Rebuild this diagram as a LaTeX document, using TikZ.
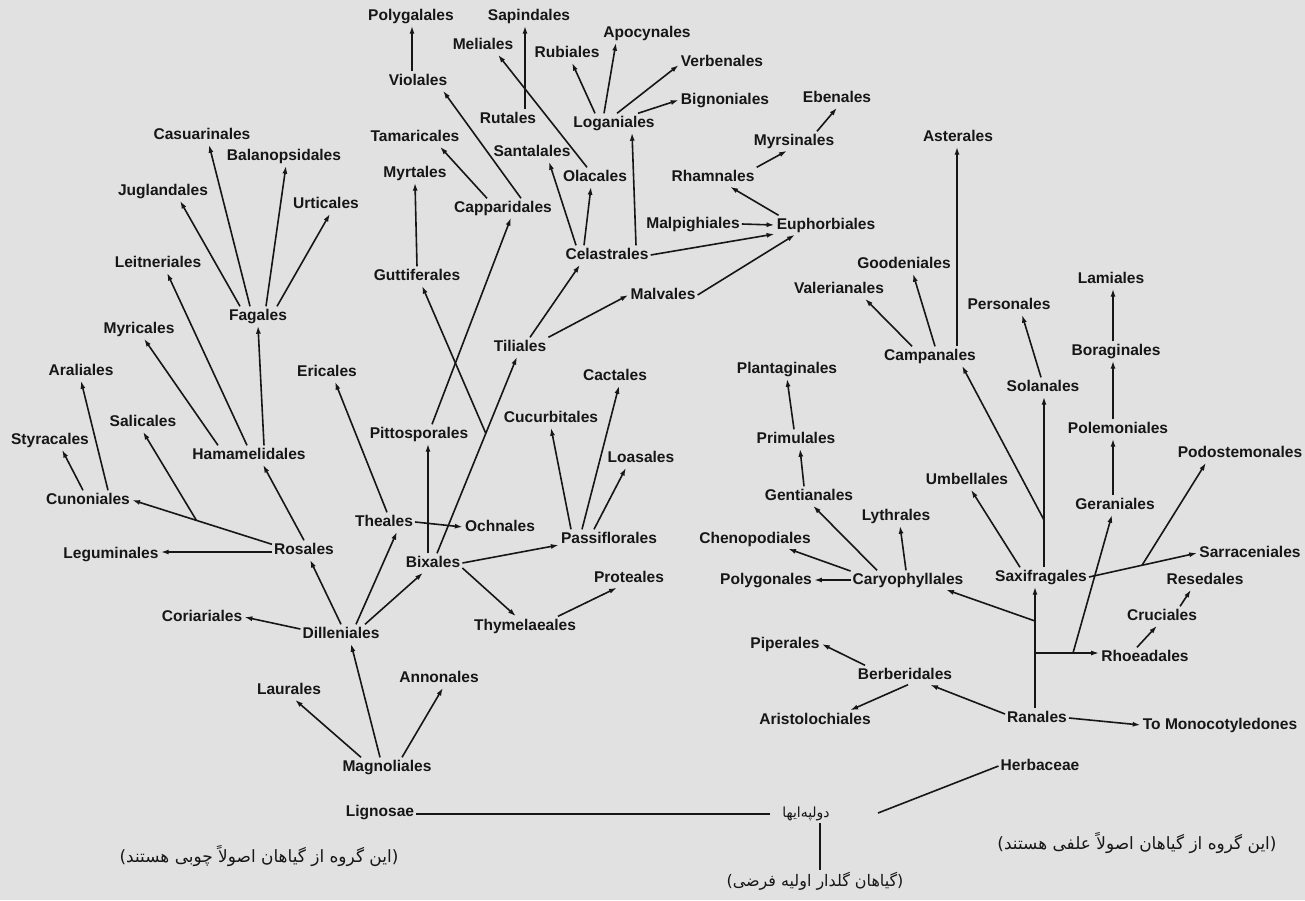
\documentclass[tikz,border=0pt]{standalone}
\usepackage{fontspec}
\setmainfont{Liberation Sans}
\newfontfamily\fa[Script=Arabic]{DejaVu Sans}
\newfontfamily\faL{DejaVu Sans}
\TeXXeTstate=1
\usetikzlibrary{arrows.meta,calc}
\definecolor{bgc}{RGB}{225,225,225}
\definecolor{ink}{RGB}{22,22,22}
\newcommand{\lp}{{\faL(}}
\newcommand{\rp}{{\faL)}}
\begin{document}
\begin{tikzpicture}[x=1bp,y=-1bp,
  lab/.style={font=\bfseries\fontsize{15.6}{18}\selectfont, text=ink, inner sep=2bp, text height=11.5bp, text depth=3.5bp},
  fat/.style={font=\fa\fontsize{#1}{20}\selectfont, text=ink, inner sep=2bp},
  ar/.style={draw=ink, line width=1.6bp, -{Latex[length=8bp,width=5bp]}},
  ln/.style={draw=ink, line width=1.6bp}]
\fill[bgc] (0,0) rectangle (1305,900);
% ---------- nodes (woody group) ----------
\node[lab] (pgl) at (411,16) {Polygalales};
\node[lab] (sap) at (529,16) {Sapindales};
\node[lab] (mel) at (483,45) {Meliales};
\node[lab] (rub) at (567,53) {Rubiales};
\node[lab] (apo) at (647,33) {Apocynales};
\node[lab] (ver) at (722,62) {Verbenales};
\node[lab] (vio) at (418,81) {Violales};
\node[lab] (big) at (725,100) {Bignoniales};
\node[lab] (rut) at (508,119) {Rutales};
\node[lab] (log) at (614,123) {Loganiales};
\node[lab] (ebe) at (837,98) {Ebenales};
\node[lab] (myrs) at (794,141) {Myrsinales};
\node[lab] (cas) at (202,135) {Casuarinales};
\node[lab] (bal) at (284,156) {Balanopsidales};
\node[lab] (tam) at (415,137) {Tamaricales};
\node[lab] (san) at (532,152) {Santalales};
\node[lab] (ola) at (595,177) {Olacales};
\node[lab] (rha) at (713,177) {Rhamnales};
\node[lab] (jug) at (163,191) {Juglandales};
\node[lab] (myrt) at (415,173) {Myrtales};
\node[lab] (cap) at (503,208) {Capparidales};
\node[lab] (urt) at (326,204) {Urticales};
\node[lab] (mal) at (693,224) {Malpighiales};
\node[lab] (eup) at (826,225) {Euphorbiales};
\node[lab] (cel) at (607,255) {Celastrales};
\node[lab] (lei) at (158,263) {Leitneriales};
\node[lab] (gut) at (417,276) {Guttiferales};
\node[lab] (mlv) at (663,295) {Malvales};
\node[lab] (fag) at (258,316) {Fagales};
\node[lab] (myri) at (139,329) {Myricales};
\node[lab] (til) at (520,347) {Tiliales};
\node[lab] (ara) at (81,371) {Araliales};
\node[lab] (eri) at (327,372) {Ericales};
\node[lab] (cac) at (615,376) {Cactales};
\node[lab] (sal) at (143,422) {Salicales};
\node[lab] (pit) at (419,434) {Pittosporales};
\node[lab] (cuc) at (551,418) {Cucurbitales};
\node[lab] (sty) at (50,440) {Styracales};
\node[lab] (ham) at (249,455) {Hamamelidales};
\node[lab] (loa) at (641,458) {Loasales};
\node[lab] (cun) at (88,500) {Cunoniales};
\node[lab] (the) at (384,522) {Theales};
\node[lab] (och) at (500,527) {Ochnales};
\node[lab] (pas) at (609,539) {Passiflorales};
\node[lab] (leg) at (111,554) {Leguminales};
\node[lab] (ros) at (304,550) {Rosales};
\node[lab] (bix) at (433,563) {Bixales};
\node[lab] (pro) at (629,578) {Proteales};
\node[lab] (cor) at (202,617) {Coriariales};
\node[lab] (dil) at (341,634) {Dilleniales};
\node[lab] (thy) at (525,626) {Thymelaeales};
\node[lab] (lau) at (289,690) {Laurales};
\node[lab] (ann) at (439,678) {Annonales};
\node[lab] (mag) at (387,767) {Magnoliales};
\node[lab] (lig) at (380,812) {Lignosae};
% ---------- nodes (herbaceous group) ----------
\node[lab] (ast) at (958,137) {Asterales};
\node[lab] (goo) at (904,264) {Goodeniales};
\node[lab] (lam) at (1111,279) {Lamiales};
\node[lab] (val) at (839,289) {Valerianales};
\node[lab] (per) at (1009,305) {Personales};
\node[lab] (cam) at (930,356) {Campanales};
\node[lab] (bor) at (1116,351) {Boraginales};
\node[lab] (pla) at (787,369) {Plantaginales};
\node[lab] (sol) at (1043,387) {Solanales};
\node[lab] (pri) at (796,439) {Primulales};
\node[lab] (pol) at (1118,429) {Polemoniales};
\node[lab] (pod) at (1240,453) {Podostemonales};
\node[lab] (umb) at (967,480) {Umbellales};
\node[lab] (gen) at (809,496) {Gentianales};
\node[lab] (ger) at (1115,505) {Geraniales};
\node[lab] (lyt) at (896,516) {Lythrales};
\node[lab] (che) at (755,539) {Chenopodiales};
\node[lab] (sar) at (1250,553) {Sarraceniales};
\node[lab] (sax) at (1041,577) {Saxifragales};
\node[lab] (res) at (1205,580) {Resedales};
\node[lab] (pgn) at (766,580) {Polygonales};
\node[lab] (car) at (908,580) {Caryophyllales};
\node[lab] (cru) at (1162,616) {Cruciales};
\node[lab] (pip) at (785,644) {Piperales};
\node[lab] (rho) at (1145,657) {Rhoeadales};
\node[lab] (ber) at (905,675) {Berberidales};
\node[lab] (ari) at (815,720) {Aristolochiales};
\node[lab] (ran) at (1037,718) {Ranales};
\node[lab] (mon) at (1220,725) {To Monocotyledones};
\node[lab] (her) at (1040,766) {Herbaceae};
% ---------- Persian texts ----------
\node[fat=14] (dic) at (806,814) {\beginR دولپه‌ایها\endR};
\node[fat=17] (wood) at (259,856) {\lp\beginR این گروه از گیاهان اصولاً چوبی هستند\endR\rp};
\node[fat=17] (herb) at (1137,843) {\lp\beginR این گروه از گیاهان اصولاً علفی هستند\endR\rp};
\node[fat=16] (prim) at (815,881) {\lp\beginR گیاهان گلدار اولیه فرضی\endR\rp};
% ---------- helper coordinates ----------
\coordinate (xvp) at (412,0);
\coordinate (xrs) at (525,0);
\coordinate (xbp) at (428,0);
\coordinate (xas) at (957,0);
\coordinate (xss) at (1044,0);
\coordinate (xgl) at (1113,0);
\coordinate (xrn) at (1035,0);
\coordinate (xdc) at (820,0);
\coordinate (jcam) at (1044,520);
\coordinate (jcar) at (1035,621);
\coordinate (jrho) at (1035,653);
\coordinate (jger) at (1073,653);
\coordinate (jlig) at (770,0);
\coordinate (jher) at (878,813);
% ---------- woody connectors ----------
\draw[ar] ([xshift=-26bp]mag.north) -- ([xshift=6bp]lau.south);
\draw[ar] ([xshift=-7bp]mag.north) -- ([xshift=10bp]dil.south);
\draw[ar] ([xshift=15bp]mag.north) -- ([xshift=4bp]ann.south);
\draw[ar] ([yshift=5bp]dil.west) -- (cor.east);
\draw[ar] (dil.north) -- ([xshift=6bp]ros.south);
\draw[ar] ([xshift=15bp]dil.north) -- ([xshift=13bp]the.south);
\draw[ar] ([xshift=24bp]dil.north) -- ([xshift=-10bp]bix.south);
\draw[ar] ([yshift=-2bp]ros.west) -- ([yshift=-2bp]ros.west -| leg.east);
\draw[ar] (ros.north) -- ([xshift=14bp]ham.south);
\coordinate (rosA) at ([yshift=-4bp]ros.north west);
\draw[ar] (rosA) -- (cun.east);
\coordinate (jsal) at ($(rosA)!0.54!(cun.east)$);
\draw[ar] (jsal) -- (sal.south);
\draw[ar] ([xshift=-5bp]cun.north) -- ([xshift=12bp]sty.south);
\draw[ar] ([xshift=20bp]cun.north) -- (ara.south);
\draw[ar] ([xshift=-31bp]ham.north) -- ([xshift=5bp]myri.south);
\draw[ar] ([xshift=-2bp]ham.north) -- ([xshift=9bp]lei.south);
\draw[ar] ([xshift=15bp]ham.north) -- (fag.south);
\draw[ar] ([xshift=-18bp]fag.north) -- ([xshift=17bp]jug.south);
\draw[ar] ([xshift=-8bp]fag.north) -- ([xshift=7bp]cas.south);
\draw[ar] ([xshift=8bp]fag.north) -- ([xshift=2bp]bal.south);
\draw[ar] ([xshift=19bp]fag.north) -- ([xshift=4bp]urt.south);
\draw[ar] (the.east) -- (och.west);
\draw[ar] ([xshift=3bp]the.north) -- ([xshift=8bp]eri.south);
\draw[ar] (bix.north -| xbp) -- (pit.south -| xbp);
\coordinate (bixS) at ([xshift=4bp]bix.north);
\coordinate (tilE) at ([xshift=-3bp]til.south);
\draw[ar] (bixS) -- (tilE);
\coordinate (jgut) at ($(bixS)!0.61!(tilE)$);
\draw[ar] (jgut) -- ([xshift=5bp]gut.south);
\draw[ar] ([xshift=13bp]pit.north) -- ([xshift=8bp]cap.south);
\draw[ar] (bix.east) -- ([yshift=-6bp]pas.west);
\draw[ar] ([yshift=-5bp]bix.east) -- ([xshift=-9bp]thy.north);
\draw[ar] ([xshift=33bp]thy.north) -- ([xshift=-12bp]pro.south);
\draw[ar] ([xshift=-38bp]pas.north) -- (cuc.south);
\draw[ar] ([xshift=-27bp]pas.north) -- ([xshift=4bp]cac.south);
\draw[ar] ([xshift=-15bp]pas.north) -- ([xshift=-15bp]loa.south);
\draw[ar] (gut.north) -- (myrt.south);
\draw[ar] ([xshift=-16bp]cap.north) -- ([xshift=25bp]tam.south);
\draw[ar] ([xshift=18bp]cap.north) -- ([xshift=25bp]vio.south);
\draw[ar] (vio.north -| xvp) -- (pgl.south -| xvp);
\draw[ar] (rut.north -| xrs) -- (sap.south -| xrs);
\draw[ar] ([xshift=-8bp]ola.north) -- ([xshift=15bp]mel.south);
\draw[ar] ([xshift=10bp]til.north) -- ([xshift=-27bp]cel.south);
\draw[ar] (til.north east) -- (mlv.west);
\draw[ar] ([xshift=-31bp]cel.north) -- ([xshift=17bp]san.south);
\draw[ar] ([xshift=-23bp]cel.north) -- ([xshift=-4bp]ola.south);
\draw[ar] ([xshift=29bp]cel.north) -- ([xshift=18bp]log.south);
\draw[ar] (cel.east) -- ([yshift=-9bp]eup.west);
\draw[ar] (mal.east) -- (eup.west);
\draw[ar] (mlv.east) -- ([xshift=-31bp]eup.south);
\draw[ar] ([xshift=-19bp]log.north) -- ([xshift=5bp]rub.south);
\draw[ar] ([xshift=-10bp]log.north) -- ([xshift=-31bp]apo.south);
\draw[ar] ([xshift=3bp]log.north) -- ([yshift=-3bp]ver.west);
\draw[ar] ([xshift=24bp]log.north) -- (big.west);
\draw[ar] ([xshift=4bp]eup.north west) -- ([xshift=17bp]rha.south);
\draw[ar] (rha.north east) -- ([xshift=-7bp]myrs.south);
\draw[ar] ([xshift=23bp]myrs.north) -- (ebe.south);
% ---------- herbaceous connectors ----------
\draw[ar] (ran.north -| xrn) -- (sax.south -| xrn);
\draw[ar] (jcar) -- ([xshift=38bp]car.south);
\draw[ar] (jrho) -- (jrho -| rho.west);
\draw[ar] (jger) -- ([xshift=-3bp]ger.south);
\draw[ar] ([xshift=-8bp]rho.north) -- ([xshift=-5bp]cru.south);
\draw[ar] ([xshift=18bp]cru.north) -- ([xshift=-14bp]res.south);
\draw[ar] ([yshift=4bp]ran.west) -- ([xshift=25bp]ber.south);
\draw[ar] (ran.east) -- (mon.west);
\draw[ar] ([xshift=-40bp]ber.north) -- (pip.east);
\draw[ar] ([xshift=3bp]ber.south) -- ([xshift=35bp]ari.north);
\draw[ar] (car.west) -- (pgn.east);
\draw[ar] ([yshift=9bp]car.west) -- ([xshift=33bp]che.south);
\draw[ar] ([xshift=-31bp]car.north) -- ([xshift=4bp]gen.south);
\draw[ar] ([xshift=-2bp]car.north) -- ([xshift=4bp]lyt.south);
\draw[ar] ([xshift=-5bp]gen.north) -- ([xshift=4bp]pri.south);
\draw[ar] ([xshift=-2bp]pri.north) -- (pla.south);
\draw[ar] (sax.north -| xss) -- (sol.south -| xss);
\draw[ar] (jcam) -- ([xshift=32bp]cam.south);
\draw[ar] ([xshift=-21bp]sax.north) -- ([xshift=4bp]umb.south);
\draw[ar] (sax.east) -- (sar.west);
\coordinate (jpod) at ($(sax.east)!0.49!(sar.west)$);
\draw[ar] (jpod) -- ([xshift=-34bp]pod.south);
\draw[ar] ([xshift=-2bp]sol.north) -- ([xshift=13bp]per.south);
\draw[ar] (ger.north -| xgl) -- (pol.south -| xgl);
\draw[ar] (pol.north -| xgl) -- (bor.south -| xgl);
\draw[ar] (bor.north -| xgl) -- (lam.south -| xgl);
\draw[ar] ([xshift=-18bp]cam.north) -- ([xshift=26bp]val.south);
\draw[ar] ([xshift=5bp]cam.north) -- ([xshift=9bp]goo.south);
\draw[ar] (cam.north -| xas) -- (ast.south -| xas);
% ---------- base lines ----------
\draw[ln] ([yshift=-2bp]lig.east) -- ([yshift=-2bp]lig.east -| jlig);
\draw[ln] (jher) -- (her.west);
\draw[ln] (dic.south -| xdc) -- (prim.north -| xdc);
\end{tikzpicture}
\end{document}
